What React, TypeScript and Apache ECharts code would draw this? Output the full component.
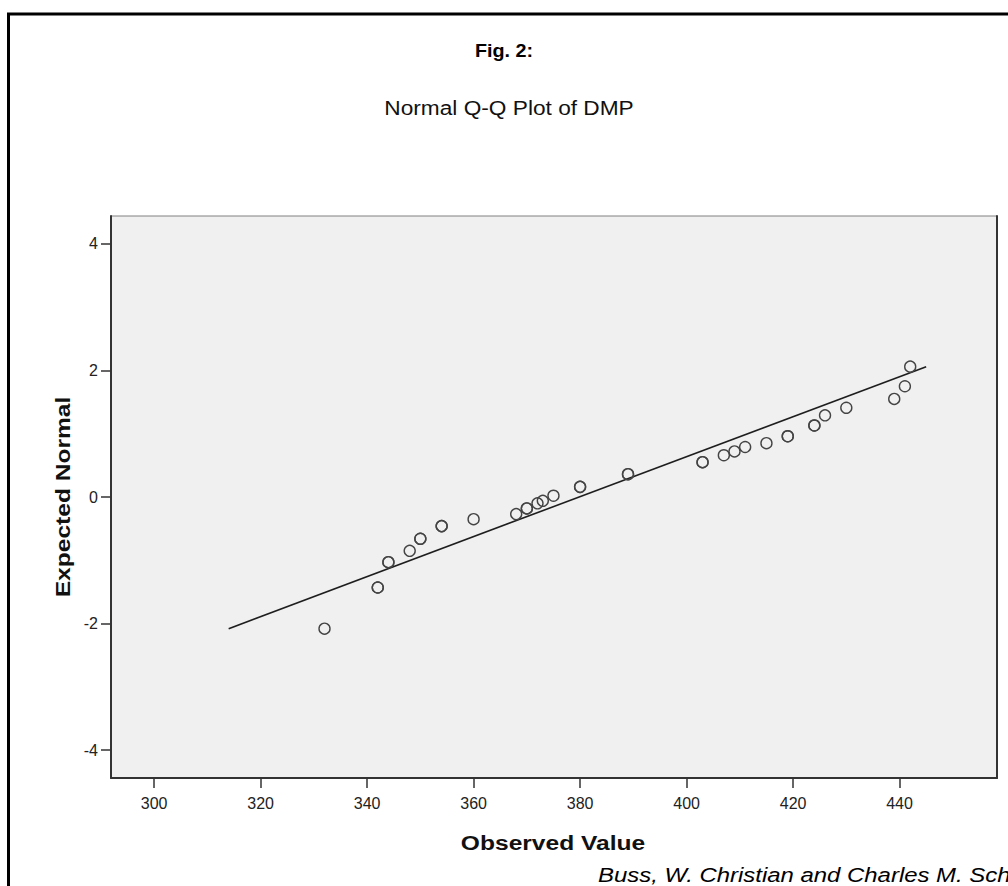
import React, { useEffect, useRef } from "react";
import * as echarts from "echarts";

const observed = [332, 342, 342, 344, 344, 348, 350, 350, 354, 354, 360, 368, 370, 370, 372, 373, 375, 380, 380, 389, 389, 403, 403, 407, 409, 411, 415, 419, 419, 424, 424, 426, 430, 439, 441, 442];
const expectedNormal = [-2.08, -1.43, -1.43, -1.03, -1.03, -0.85, -0.66, -0.66, -0.46, -0.46, -0.35, -0.27, -0.18, -0.18, -0.1, -0.06, 0.02, 0.16, 0.16, 0.36, 0.36, 0.55, 0.55, 0.66, 0.72, 0.79, 0.85, 0.96, 0.96, 1.13, 1.13, 1.29, 1.41, 1.55, 1.75, 2.06];
const refLineX = [314, 445];
const refLineY = [-2.08, 2.06];
const xTicks = [300, 320, 340, 360, 380, 400, 420, 440];
const yTicks = [-4, -2, 0, 2, 4];

const FONT = "Arial, 'Liberation Sans', sans-serif";

export default function App() {
  const ref = useRef<HTMLDivElement>(null);
  useEffect(() => {
    if (!ref.current) return;
    const chart = echarts.init(ref.current, null, { renderer: "svg" });
    const points = observed.map((x, i) => [x, expectedNormal[i]]);
    const line = refLineX.map((x, i) => [x, refLineY[i]]);
    const tickLabel = { fontSize: 16, color: "#222", fontFamily: FONT };
    chart.setOption({
      animation: false,
      backgroundColor: "#ffffff",
      textStyle: { fontFamily: FONT, fontSize: 16 },
      grid: {
        left: 111,
        right: 11,
        top: 216,
        bottom: 108,
        show: true,
        backgroundColor: "#f0f0f0",
        borderColor: "#808080",
        borderWidth: 1,
      },
      xAxis: {
        type: "value",
        min: 291.9,
        max: 458.3,
        axisLine: { show: true, onZero: false, lineStyle: { color: "#333", width: 2 } },
        axisTick: { show: true, length: 10, customValues: xTicks, lineStyle: { color: "#333", width: 1.5 } },
        axisLabel: { ...tickLabel, customValues: xTicks, margin: 17 },
        splitLine: { show: false },
      },
      yAxis: [
        {
          type: "value",
          min: -4.44,
          max: 4.44,
          axisLine: { show: true, onZero: false, lineStyle: { color: "#333", width: 2 } },
          axisTick: { show: true, length: 10, customValues: yTicks, lineStyle: { color: "#333", width: 1.5 } },
          axisLabel: { ...tickLabel, customValues: yTicks, margin: 13 },
          splitLine: { show: false },
        },
        {
          type: "value",
          position: "right",
          min: -4.44,
          max: 4.44,
          axisLine: { show: true, onZero: false, lineStyle: { color: "#333", width: 2 } },
          axisTick: { show: false },
          axisLabel: { show: false },
          splitLine: { show: false },
        },
      ],
      series: [
        {
          type: "line",
          data: line,
          symbol: "none",
          lineStyle: { color: "#1e1e1e", width: 1.6 },
          z: 2,
        },
        {
          type: "scatter",
          data: points,
          symbol: "circle",
          symbolSize: 11,
          itemStyle: { color: "rgba(0,0,0,0)", borderColor: "#444", borderWidth: 1.4, opacity: 1 },
          z: 3,
        },
      ],
      graphic: [
        {
          type: "rect",
          shape: { x: 8.5, y: 14, width: 1100, height: 1000 },
          style: { fill: "none", stroke: "#000", lineWidth: 3 },
          z: 100,
        },
        {
          type: "text",
          x: 504,
          y: 50,
          scaleX: 1.04,
          style: { text: "Fig. 2:", fontSize: 19, fontWeight: "bold", fontFamily: FONT, fill: "#000", align: "center", verticalAlign: "middle" },
        },
        {
          type: "text",
          x: 509,
          y: 108,
          scaleX: 1.08,
          style: { text: "Normal Q-Q Plot of DMP", fontSize: 21, fontFamily: FONT, fill: "#111", align: "center", verticalAlign: "middle" },
        },
        {
          type: "text",
          x: 63,
          y: 497,
          rotation: Math.PI / 2,
          scaleX: 1.17,
          style: { text: "Expected Normal", fontSize: 21, fontWeight: "bold", fontFamily: FONT, fill: "#111", align: "center", verticalAlign: "middle" },
        },
        {
          type: "text",
          x: 553,
          y: 843,
          scaleX: 1.17,
          style: { text: "Observed Value", fontSize: 21, fontWeight: "bold", fontFamily: FONT, fill: "#111", align: "center", verticalAlign: "middle" },
        },
        {
          type: "text",
          x: 598,
          y: 875,
          scaleX: 1.14,
          style: { text: "Buss, W. Christian and Charles M. Sch", fontSize: 21, fontStyle: "italic", fontFamily: FONT, fill: "#000", align: "left", verticalAlign: "middle" },
        },
      ],
    });
    return () => chart.dispose();
  }, []);
  return <div ref={ref} style={{ position: "absolute", left: 0, top: 0, width: 1008, height: 886 }} />;
}
